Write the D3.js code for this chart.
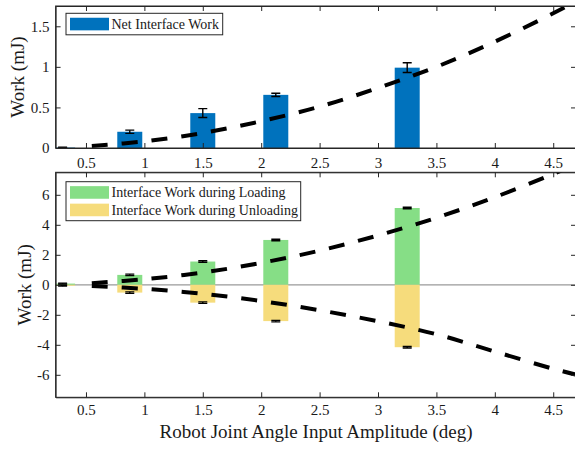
<!DOCTYPE html>
<html>
<head>
<meta charset="utf-8">
<script src="https://cdn.jsdelivr.net/npm/d3@7"></script>
<style>
  body { margin: 0; background: #fff; }
  svg text { font-family: "Liberation Serif", "Times New Roman", Times, "DejaVu Serif", serif !important; fill: #1a1a1a; }
</style>
</head>
<body>
<svg id="chart" width="575" height="449"></svg>
<script>
// Measured amplitudes and work values
const amplitudes     = [0.3, 0.875, 1.5, 2.125, 3.25];
const netWork        = [0.005, 0.20, 0.43, 0.655, 0.99];
const netWorkErr     = [0.004, 0.02, 0.055, 0.02, 0.06];
const loadingWork    = [0.08, 0.66, 1.55, 2.99, 5.12];
const loadingErr     = [0.03, 0.05, 0.05, 0.05, 0.05];
const unloadingWork  = [-0.06, -0.52, -1.19, -2.42, -4.16];
const unloadingErr   = [0.03, 0.05, 0.05, 0.05, 0.05];

// Model curves (dashed)
const fitAmplitudes  = [0.55, 1, 1.5, 2, 2.5, 3, 3.5, 4, 4.5, 4.7];
const netFit         = [0.025, 0.082, 0.185, 0.33, 0.51, 0.74, 1.0, 1.31, 1.66, 1.81];
const loadingFit     = [0.11, 0.37, 0.82, 1.46, 2.28, 3.29, 4.47, 5.84, 7.39, 8.06];
const unloadingFit   = [-0.08, -0.27, -0.6, -1.08, -1.7, -2.43, -3.3, -4.45, -5.6, -6.0];

// Tick labels
const xTicks     = [0.5, 1, 1.5, 2, 2.5, 3, 3.5, 4, 4.5];
const netTicks   = [0, 0.5, 1, 1.5];
const splitTicks = [-6, -4, -2, 0, 2, 4, 6];

const colors = { net: "#0072BD", loading: "#86DE86", unloading: "#F6DC7C", axis: "#262626" };
const serif = '"Liberation Serif", "Times New Roman", Times, "DejaVu Serif", serif';

const svg = d3.select("#chart");
const left = 55.6, right = 576;
const x = d3.scaleLinear().domain([0.24, 4.695]).range([left, right]);
const barW = 25;

const panels = [
  { id: "top", top: 6, bottom: 148, domain: [0, 1.75], ticks: netTicks, labelX: 24, xPad: 9 },
  { id: "bot", top: 172.3, bottom: 397.3, domain: [-7.5, 7.5], ticks: splitTicks, labelX: 31, xPad: 7.5 }
];
panels.forEach(p => {
  p.y = d3.scaleLinear().domain(p.domain).range([p.bottom, p.top]);
  svg.append("clipPath").attr("id", "clip-" + p.id)
    .append("rect").attr("x", left).attr("y", p.top)
    .attr("width", right - left).attr("height", p.bottom - p.top);
  p.g = svg.append("g");
  p.plot = p.g.append("g").attr("clip-path", `url(#clip-${p.id})`);
});

const fmt = d => String(d);

function drawAxes(p) {
  const g = p.g;
  g.append("g").attr("transform", `translate(0,${p.bottom})`)
    .call(d3.axisBottom(x).tickValues(xTicks).tickSize(-5).tickSizeOuter(0).tickPadding(p.xPad).tickFormat(fmt));
  g.append("g").attr("transform", `translate(0,${p.top})`)
    .call(d3.axisTop(x).tickValues(xTicks).tickSize(-5).tickSizeOuter(0).tickFormat(""));
  g.append("g").attr("transform", `translate(${left},0)`)
    .call(d3.axisLeft(p.y).tickValues(p.ticks).tickSize(-5).tickSizeOuter(0).tickPadding(6).tickFormat(fmt));
  g.append("g").attr("transform", `translate(${right},0)`)
    .call(d3.axisRight(p.y).tickValues(p.ticks).tickSize(-5).tickSizeOuter(0).tickFormat(""));
  g.selectAll("g").attr("font-family", serif);
  g.selectAll(".domain").attr("stroke", colors.axis).attr("stroke-width", 1);
  g.selectAll(".tick line").attr("stroke", colors.axis).attr("stroke-width", 1);
  g.selectAll(".tick text").attr("font-size", 15).attr("fill", "#1a1a1a");
  g.append("text")
    .attr("transform", `translate(${p.labelX},${(p.top + p.bottom) / 2}) rotate(-90)`)
    .attr("text-anchor", "middle").attr("font-size", 19).text("Work (mJ)");
}

function errorBars(plot, y, values, errs) {
  const cap = 4.5;
  const eb = plot.append("g").attr("stroke", "#000").attr("stroke-width", 1.4);
  values.forEach((v, i) => {
    const cx = x(amplitudes[i]);
    const y1 = y(v - errs[i]), y2 = y(v + errs[i]);
    eb.append("line").attr("x1", cx).attr("x2", cx).attr("y1", y1).attr("y2", y2);
    eb.append("line").attr("x1", cx - cap).attr("x2", cx + cap).attr("y1", y1).attr("y2", y1);
    eb.append("line").attr("x1", cx - cap).attr("x2", cx + cap).attr("y1", y2).attr("y2", y2);
  });
}

function dashed(plot, y, values) {
  const line = d3.line().x((d, i) => x(fitAmplitudes[i])).y(d => y(d)).curve(d3.curveCatmullRom);
  plot.append("path").datum(values).attr("d", line)
    .attr("fill", "none").attr("stroke", "#000").attr("stroke-width", 4)
    .attr("stroke-dasharray", "16,14");
}

// ---- Net interface work ----
const pt = panels[0];
pt.plot.selectAll("rect.net").data(netWork).join("rect")
  .attr("x", (d, i) => x(amplitudes[i]) - barW / 2).attr("width", barW)
  .attr("y", d => pt.y(Math.max(d, 0))).attr("height", d => Math.abs(pt.y(d) - pt.y(0)))
  .attr("fill", colors.net);
errorBars(pt.plot, pt.y, netWork, netWorkErr);
dashed(pt.plot, pt.y, netFit);
drawAxes(pt);

// ---- Loading / unloading work ----
const pb = panels[1];
pb.plot.append("line").attr("x1", left).attr("x2", right)
  .attr("y1", pb.y(0)).attr("y2", pb.y(0)).attr("stroke", "#9a9a9a").attr("stroke-width", 1.2);
pb.plot.selectAll("rect.load").data(loadingWork).join("rect")
  .attr("x", (d, i) => x(amplitudes[i]) - barW / 2).attr("width", barW)
  .attr("y", d => pb.y(d)).attr("height", d => pb.y(0) - pb.y(d))
  .attr("fill", colors.loading);
pb.plot.selectAll("rect.unload").data(unloadingWork).join("rect")
  .attr("x", (d, i) => x(amplitudes[i]) - barW / 2).attr("width", barW)
  .attr("y", pb.y(0)).attr("height", d => pb.y(d) - pb.y(0))
  .attr("fill", colors.unloading);
errorBars(pb.plot, pb.y, loadingWork, loadingErr);
errorBars(pb.plot, pb.y, unloadingWork, unloadingErr);
dashed(pb.plot, pb.y, loadingFit);
dashed(pb.plot, pb.y, unloadingFit);
drawAxes(pb);

// Frames (top and left edges; right edge lies past the canvas)
panels.forEach(p => {
  p.g.append("rect").attr("x", left).attr("y", p.top)
    .attr("width", right - left).attr("height", p.bottom - p.top)
    .attr("fill", "none").attr("stroke", colors.axis).attr("stroke-width", 1);
});

// X axis title
svg.append("text").attr("x", 316).attr("y", 437.5).attr("text-anchor", "middle")
  .attr("font-size", 19).text("Robot Joint Angle Input Amplitude (deg)");

// Legends
function legend(x0, y0, w, entries) {
  const rowH = 17.5;
  const g = svg.append("g");
  g.append("rect").attr("x", x0).attr("y", y0).attr("width", w)
    .attr("height", entries.length * rowH + 4)
    .attr("fill", "#fff").attr("stroke", colors.axis).attr("stroke-width", 1);
  entries.forEach((e, i) => {
    const cy = y0 + 2 + rowH * i + rowH / 2;
    g.append("rect").attr("x", x0 + 4).attr("y", cy - 6.3).attr("width", 39).attr("height", 12.6)
      .attr("fill", e.color);
    g.append("text").attr("x", x0 + 45.5).attr("y", cy + 4.8)
      .attr("font-size", 14).text(e.label);
  });
}
legend(66, 13.3, 156.7, [{ label: "Net Interface Work", color: colors.net }]);
legend(66, 181.7, 234.7, [
  { label: "Interface Work during Loading", color: colors.loading },
  { label: "Interface Work during Unloading", color: colors.unloading }
]);
</script>
</body>
</html>
